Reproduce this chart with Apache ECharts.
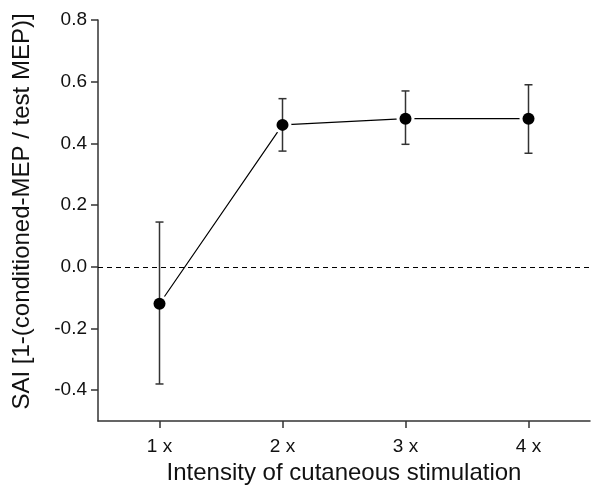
<!DOCTYPE html>
<html>
<head>
<meta charset="utf-8">
<script src="https://cdn.jsdelivr.net/npm/echarts@6/dist/echarts.min.js"></script>
<style>
  html, body { margin: 0; padding: 0; background: #fff; }
  #chart { width: 591px; height: 488px; }
</style>
</head>
<body>
<div id="chart"></div>
<script type="text/javascript">

// stimulation intensities and SAI values
var categories = ['1 x', '2 x', '3 x', '4 x'];
var sai = [-0.12, 0.46, 0.48, 0.48];
var errUp = [0.145, 0.545, 0.57, 0.59];
var errDown = [-0.38, 0.375, 0.397, 0.368];
var yTicks = [-0.4, -0.2, 0, 0.2, 0.4, 0.6, 0.8];

var errData = categories.map(function (c, i) {
    return [i, errDown[i], errUp[i]];
});

var font = '"Liberation Sans", Arial, sans-serif';

var option = {
    animation: false,
    backgroundColor: '#fff',
    grid: { left: 98, right: 1, top: 20, bottom: 67, outerBoundsMode: 'none' },
    xAxis: {
        type: 'category',
        data: categories,
        name: 'Intensity of cutaneous stimulation',
        nameLocation: 'middle',
        nameGap: 40,
        nameTextStyle: { fontFamily: font, fontSize: 24, color: '#111' },
        axisLine: { onZero: false, lineStyle: { color: '#333', width: 1.5 } },
        axisTick: { show: true, alignWithLabel: true, length: 7, lineStyle: { color: '#333', width: 1.5 } },
        axisLabel: { fontFamily: font, fontSize: 19, color: '#111', margin: 16 },
        splitLine: { show: false }
    },
    yAxis: {
        type: 'value',
        min: -0.5,
        max: 0.8,
        name: 'SAI [1-(conditioned-MEP / test MEP)]',
        nameLocation: 'middle',
        nameGap: 64,
        nameTextStyle: { fontFamily: font, fontSize: 24, color: '#111', padding: [0, 0, 0, 18] },
        axisLine: { show: true, lineStyle: { color: '#333', width: 1.5 } },
        axisTick: { show: true, length: 7, customValues: yTicks, lineStyle: { color: '#333', width: 1.5 } },
        axisLabel: {
            fontFamily: font, fontSize: 19, color: '#111', margin: 11,
            customValues: yTicks,
            formatter: function (v) { return v.toFixed(1); }
        },
        splitLine: { show: false }
    },
    series: [
        {
            type: 'line',
            data: sai,
            z: 2,
            symbol: 'circle',
            symbolSize: 18,
            itemStyle: { color: '#fff' },
            lineStyle: { color: '#000', width: 1.2 },
            markLine: {
                silent: true,
                symbol: ['none', 'none'],
                label: { show: false },
                lineStyle: { color: '#000', type: [5, 4], width: 1.2 },
                data: [{ yAxis: 0 }]
            }
        },
        {
            type: 'custom',
            z: 3,
            data: errData,
            renderItem: function (params, api) {
                var x = api.coord([api.value(0), api.value(1)])[0];
                var lo = api.coord([api.value(0), api.value(1)])[1];
                var hi = api.coord([api.value(0), api.value(2)])[1];
                var w = 4;
                var st = { stroke: '#333', lineWidth: 1.5 };
                return {
                    type: 'group',
                    children: [
                        { type: 'line', shape: { x1: x, y1: lo, x2: x, y2: hi }, style: st },
                        { type: 'line', shape: { x1: x - w, y1: lo, x2: x + w, y2: lo }, style: st },
                        { type: 'line', shape: { x1: x - w, y1: hi, x2: x + w, y2: hi }, style: st }
                    ]
                };
            }
        },
        {
            type: 'scatter',
            z: 4,
            data: sai,
            symbol: 'circle',
            symbolSize: 12,
            itemStyle: { color: '#000', opacity: 1 }
        }
    ]
};

var chart = echarts.init(document.getElementById('chart'));
chart.setOption(option);
</script>
</body>
</html>
